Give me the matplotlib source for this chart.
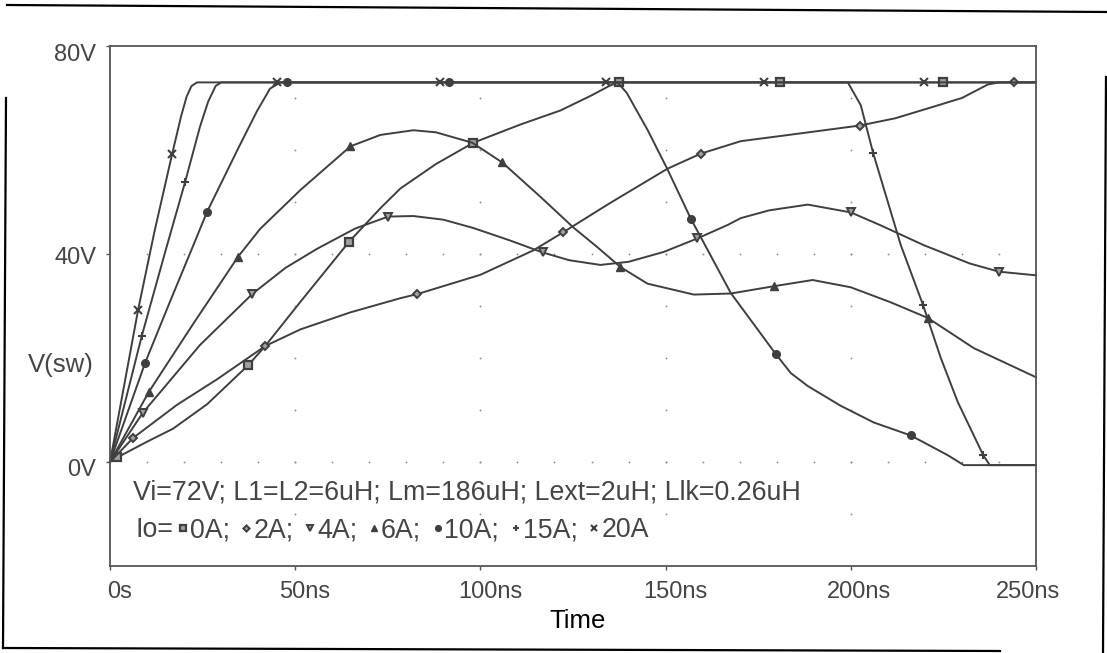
import matplotlib
matplotlib.use("Agg")
import matplotlib.pyplot as plt
from matplotlib.lines import Line2D
from matplotlib.offsetbox import AnnotationBbox, DrawingArea, HPacker, TextArea
from matplotlib.transforms import ScaledTranslation
import numpy as np

plt.rcParams["font.family"] = ["Liberation Sans", "DejaVu Sans"]

# switch-node voltage V(sw) in volts vs time in ns, one trace per load current
T_0A = [0, 2, 10, 17, 26.2, 37.3, 41.9, 51.4, 64.6, 73, 78.4, 88, 98.1, 110.8, 121.6,
        130, 135, 137.3, 181, 224.9, 250]
V_0A = [0, 0.9, 3.9, 6.4, 11.1, 18.6, 22.3, 30.8, 42.4, 48.8, 52.6, 57.3, 61.4, 64.9, 67.6,
        70.5, 72.4, 73, 73, 73, 73]
M_0A = [2, 37.3, 64.6, 98.1, 137.3, 181, 224.9]

T_2A = [0, 6.2, 18.1, 28.9, 41.9, 51.4, 65, 78.4, 83, 100, 114.3, 122.4, 135, 150.5,
        159.5, 170.3, 181.1, 202.4, 212, 220.8, 230, 237, 240, 244, 250]
V_2A = [0, 4.6, 11.0, 15.9, 22.3, 25.5, 28.8, 31.5, 32.3, 36.0, 40.7, 44.2, 49.8, 56.4,
        59.3, 61.7, 62.7, 64.7, 66.1, 68.0, 70.0, 72.6, 73, 73, 73]
M_2A = [6.2, 41.9, 83, 122.4, 159.5, 202.4, 244]

T_4A = [0, 8.9, 24.3, 38.4, 47.3, 55.9, 66.2, 75.1, 81.9, 90, 98.1, 108, 116.8, 124,
        132.4, 140, 149.5, 158.6, 166.8, 170.3, 178, 188.4, 200, 208.1, 219.7, 224.3,
        232, 240, 250]
V_4A = [0, 9.5, 22.5, 32.3, 37.3, 41.0, 44.9, 47.2, 47.3, 46.6, 45.0, 42.6, 40.3, 38.8,
        37.9, 38.5, 40.4, 43.0, 45.6, 46.9, 48.4, 49.5, 48.0, 45.5, 41.7, 40.4,
        38.2, 36.6, 35.9]
M_4A = [8.9, 38.4, 75.1, 116.8, 158.6, 200, 240]

T_6A = [0, 10.5, 22.4, 34.6, 40.5, 51.4, 64.9, 73, 81.9, 88, 97.8, 105.9, 116.2, 125.1,
        131.6, 137.8, 145.1, 157.6, 167.6, 179.2, 189.7, 200, 210.8, 220.8, 233.2, 250]
V_6A = [0, 13.5, 26.5, 39.5, 44.8, 52.3, 60.7, 62.9, 63.8, 63.4, 61.4, 57.6, 51.0, 45.1,
        41.3, 37.5, 34.3, 32.2, 32.4, 33.8, 35.0, 33.6, 30.7, 27.7, 21.9, 16.3]
M_6A = [10.5, 34.6, 64.9, 105.9, 137.8, 179.2, 220.8]

T_10A = [0, 9.5, 16, 22.4, 26.2, 34.6, 39.7, 43.2, 46, 47.8, 91.4, 137, 139.5, 145.1,
         150.5, 156.8, 167.6, 179.7, 183.8, 188.4, 197.3, 206.2, 216.2, 226.2, 230.5, 250]
V_10A = [0, 19.1, 30.5, 41.5, 48.1, 60.3, 67.5, 71.8, 73, 73, 73, 73, 71.0, 63.9,
         56.3, 46.8, 32.5, 20.8, 17.1, 14.6, 10.8, 7.6, 5.1, 1.3, -0.6, -0.6]
M_10A = [9.5, 26.2, 47.8, 91.4, 156.8, 179.7, 216.2]

T_15A = [0, 8.6, 15.1, 20.3, 24.3, 26.5, 28.5, 30, 199.2, 202.7, 206, 213.5, 219.5,
         224.3, 228.9, 235.7, 237.5, 250]
V_15A = [0, 24.3, 40.9, 53.9, 64.5, 69.3, 72.3, 73, 73, 68.6, 59.5, 41.7, 30.2,
         20.0, 11.5, 1.4, -0.6, -0.6]
M_15A = [8.6, 20.3, 206, 219.5, 235.7]

T_20A = [0, 3.5, 7.6, 12, 16.8, 19.2, 20.7, 22, 23.5, 45, 89, 134, 176.5, 219.7, 250]
V_20A = [0, 13.5, 29.3, 44.3, 59.3, 66.5, 70.3, 72.3, 73, 73, 73, 73, 73, 73, 73]
M_20A = [7.6, 16.8, 45, 89, 134, 176.5, 219.7]

CURRENT_LABELS = ["0A", "2A", "4A", "6A", "10A", "15A", "20A"]
X_TICKS = [0, 50, 100, 150, 200, 250]
X_TICK_LABELS = ["0s", "50ns", "100ns", "150ns", "200ns", "250ns"]
Y_TICKS = [0, 40, 80]
Y_TICK_LABELS = ["0V", "40V", "80V"]
PARAMS = "Vi=72V; L1=L2=6uH; Lm=186uH; Lext=2uH; Llk=0.26uH"

INK = "#3f3f3f"
TXT = "#454545"
LIGHT = "#a0a0a0"

# marker style per trace (PSpice-like symbols)
STYLES = [
    dict(marker="s", ms=5.5, mfc=LIGHT, mec=INK, mew=1.6),
    dict(marker="D", ms=4.2, mfc=LIGHT, mec=INK, mew=1.4),
    dict(marker="v", ms=6, mfc=LIGHT, mec=INK, mew=1.4),
    dict(marker="^", ms=6, mfc=INK, mec=INK, mew=1.0),
    dict(marker="o", ms=5.5, mfc=INK, mec=INK, mew=1.0),
    dict(marker="+", ms=6, mec=INK, mew=1.5),
    dict(marker="x", ms=5.5, mec=INK, mew=1.5),
]

W, H = 1107, 653
fig = plt.figure(figsize=(W / 100, H / 100), dpi=100)
ax = fig.add_axes([110 / W, 1 - 566 / H, 926 / W, 520 / H])
ax.set_xlim(0, 250)
ax.set_ylim(-20, 80)

# dotted PSpice grid: dots along major lines at minor spacing
for tx in X_TICKS[1:-1]:
    vy = np.arange(-10, 80, 10)
    ax.plot(np.full(vy.shape, tx), vy, ls="none", marker="o", ms=1.3, color="#8a8a8a", mew=0)
for vy in Y_TICKS[:-1]:
    tx = np.arange(10, 250, 10)
    ax.plot(tx, np.full(tx.shape, vy), ls="none", marker="o", ms=1.3, color="#8a8a8a", mew=0)

traces = [
    (T_0A, V_0A, M_0A), (T_2A, V_2A, M_2A), (T_4A, V_4A, M_4A), (T_6A, V_6A, M_6A),
    (T_10A, V_10A, M_10A), (T_15A, V_15A, M_15A), (T_20A, V_20A, M_20A),
]
for (t, v, marks), st in zip(traces, STYLES):
    idx = [t.index(m) for m in marks]
    ax.plot(t, v, color=INK, lw=1.4, solid_joinstyle="round", markevery=idx,
            clip_on=False, **st)

for side in ax.spines.values():
    side.set_color("#555555")
    side.set_linewidth(1.3)

ax.set_xticks(X_TICKS, X_TICK_LABELS)
ax.set_yticks(Y_TICKS, Y_TICK_LABELS)
ax.tick_params(direction="out", length=3, width=1, color="#555555",
               labelsize=17, labelcolor=TXT)
ax.tick_params(axis="x", pad=8)
ax.tick_params(axis="y", pad=7)

# nudge tick labels the way the plotter printed them
for lab, dx in zip(ax.get_xticklabels(), [7, 7, 7, 7, 6, -6]):
    lab.set_transform(lab.get_transform() + ScaledTranslation(dx / 72, 0, fig.dpi_scale_trans))
for lab, dy in zip(ax.get_yticklabels(), [-4, -1, -5]):
    lab.set_transform(lab.get_transform() + ScaledTranslation(0, dy / 72, fig.dpi_scale_trans))

ax.set_xlabel("Time", fontsize=18.5, color="black")
ax.xaxis.set_label_coords(0.505, -0.082)
ax.set_ylabel("V(sw)", fontsize=18.5, color=TXT, rotation=0, ha="center", va="center")
ax.yaxis.set_label_coords(-0.053, 0.386)

ax.text(0.025, 0.142, PARAMS, transform=ax.transAxes, ha="left", va="center",
        fontsize=19.3, color=TXT)

# second caption line with the trace symbols
tp = dict(fontsize=19.3, color=TXT)
row = [TextArea("Io=", textprops=tp)]
for i, (lab, st) in enumerate(zip(CURRENT_LABELS, STYLES)):
    w = 12 if i == 0 else 17
    da = DrawingArea(w, 13, 0, 0)
    small = dict(st)
    small["ms"] = st["ms"] * 0.75
    da.add_artist(Line2D([w - 5], [6.8], **small))
    row.append(da)
    row.append(TextArea(lab + (";" if i < len(CURRENT_LABELS) - 1 else ""), textprops=tp))
pack = HPacker(children=row, align="baseline", pad=0, sep=0)
ab = AnnotationBbox(pack, (0.027, 0.069), xycoords="axes fraction",
                    box_alignment=(0, 0.5), frameon=False, pad=0)
ax.add_artist(ab)

# outer frame around the figure
def px(xs, ys):
    return [x / W for x in xs], [1 - y / H for y in ys]

for xs, ys in [((7, 1107), (5, 12)), ((6, 3), (98, 648)), ((3, 1000), (648, 651)),
               ((1106, 1103), (77, 653))]:
    fx, fy = px(xs, ys)
    fig.add_artist(Line2D(fx, fy, transform=fig.transFigure, color="black", lw=1.6))

fig.savefig("out.png", dpi=100)
